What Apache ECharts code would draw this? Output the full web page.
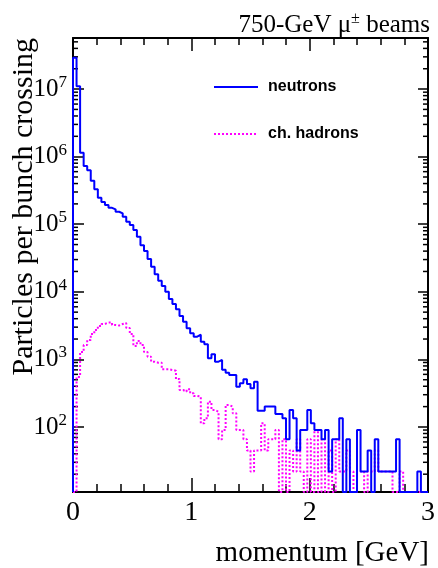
<!DOCTYPE html>
<html><head><meta charset="utf-8">
<script src="https://cdn.jsdelivr.net/npm/echarts@6/dist/echarts.min.js"></script>
<style>html,body{margin:0;padding:0;background:#fff}#c{width:438px;height:568px}</style>
</head><body><div id="c"></div>
<script>
// bin edges of the momentum histogram [GeV]
const binEdges = [
0,0.03,0.06,0.09,0.12,0.15,0.18,0.21,0.24,0.27,
0.3,0.33,0.36,0.39,0.42,0.45,0.48,0.51,0.54,0.57,
0.6,0.63,0.66,0.69,0.72,0.75,0.78,0.81,0.84,0.87,
0.9,0.93,0.96,0.99,1.02,1.05,1.08,1.11,1.14,1.17,
1.2,1.23,1.26,1.29,1.32,1.35,1.38,1.41,1.44,1.47,
1.5,1.53,1.56,1.59,1.62,1.65,1.68,1.71,1.74,1.77,
1.8,1.83,1.86,1.89,1.92,1.95,1.98,2.01,2.04,2.07,
2.1,2.13,2.16,2.19,2.22,2.25,2.28,2.31,2.34,2.37,
2.4,2.43,2.46,2.49,2.52,2.55,2.58,2.61,2.64,2.67,
2.7,2.73,2.76,2.79,2.82,2.85,2.88,2.91,2.94,2.97,
3.0];

// particles per bunch crossing, one value per bin (0 = empty bin)
const neutrons = [
2.9e7,1.1e7,1.14e6,7.3e5,6.3e5,4.4e5,3.3e5,2.47e5,2.13e5,1.92e5,
1.75e5,1.66e5,1.53e5,1.45e5,1.29e5,1.09e5,9.7e4,8.2e4,6.5e4,4.9e4,
4.0e4,3.06e4,2.35e4,1.82e4,1.46e4,1.22e4,1.0e4,7.8e3,6.6e3,5.5e3,
4.4e3,3.6e3,2.9e3,2.43e3,2.17e3,2.32e3,1.83e3,1.67e3,1.04e3,1.19e3,
925,980,700,635,587,587,394,443,508,433,
374,468,174,174,200,200,200,156,156,134,
66,178,134,45,90,90,178,113,90,90,
66,90,22,66,66,134,0,66,0,0,
90,22,22,45,0,66,22,22,22,22,
22,66,0,0,0,0,0,22,0,0];

const chHadrons = [
0,550,1285,1633,1936,2376,2723,3120,3342,3516,
3516,3226,3170,3342,3452,2917,2376,1578,1871,1633,
1285,1096,925,894,894,714,714,697,680,513,
352,333,361,315,288,281,113,134,237,178,
168,66,90,211,200,159,90,90,66,45,
22,45,45,113,45,66,66,90,0,66,
0,45,22,66,22,0,66,0,90,0,
66,0,45,0,66,22,22,45,22,0,
22,22,0,22,22,45,22,22,22,22,
0,0,22,0,0,0,0,0,0,0];

const seriesNames = ['neutrons', 'ch. hadrons'];
const xTickLabels = ['0', '1', '2', '3'];
const yMin = 10.9, yMax = 5.7e7;

const serif = '"Liberation Serif","Times New Roman",serif';

function stepData(vals) {
  const out = [[binEdges[0], yMin]];
  for (let i = 0; i < vals.length; i++) out.push([binEdges[i], vals[i] > 0 ? vals[i] : yMin]);
  out.push([binEdges[vals.length], vals[vals.length - 1] > 0 ? vals[vals.length - 1] : yMin]);
  return out;
}

// minor tick positions of the log axis (2..9 x 10^n)
const minorTicks = [];
for (let e = 1; e <= 7; e++) for (let m = 2; m <= 9; m++) {
  const v = m * Math.pow(10, e);
  if (v > yMin && v < yMax) minorTicks.push([0, v]);
}

const axisLineStyle = {show: true, onZero: false, lineStyle: {color: '#000', width: 2}};

const chart = echarts.init(document.getElementById('c'), null, {renderer: 'canvas'});
chart.setOption({
  animation: false,
  backgroundColor: '#fff',
  title: {
    text: '750-GeV μ{s|±} beams', right: 3, top: 6,
    textStyle: {fontFamily: serif, fontSize: 25, fontWeight: 'normal', color: '#000',
      rich: {s: {fontFamily: serif, fontSize: 16, color: '#000', padding: [0, 0, 12, 0]}}}
  },
  grid: {left: 73, right: 6, top: 38, bottom: 76},
  legend: {
    data: seriesNames, orient: 'vertical', left: 213, top: 79, padding: 0,
    itemWidth: 44, itemHeight: 14, itemGap: 31,
    itemStyle: {opacity: 0},
    textStyle: {fontFamily: '"Liberation Sans",Arial,sans-serif', fontWeight: 'bold', fontSize: 16, color: '#000', padding: [0, 0, 0, 5]}
  },
  xAxis: [{
    type: 'value', min: 0, max: 3, interval: 1, position: 'bottom',
    axisLine: axisLineStyle,
    axisTick: {show: true, inside: true, length: 14, lineStyle: {color: '#000', width: 1.5}},
    minorTick: {show: true, splitNumber: 5, length: 8, lineStyle: {color: '#000', width: 1.5}},
    splitLine: {show: false},
    axisLabel: {margin: 7, fontFamily: serif, fontSize: 28, color: '#000',
      formatter: v => xTickLabels[Math.round(v)]}
  }, {
    type: 'value', min: 0, max: 3, interval: 1, position: 'top',
    axisLine: axisLineStyle,
    axisTick: {show: true, inside: true, length: 13, lineStyle: {color: '#000', width: 1.5}},
    minorTick: {show: true, splitNumber: 5, length: 7, lineStyle: {color: '#000', width: 1.5}},
    splitLine: {show: false}, axisLabel: {show: false}
  }],
  yAxis: [{
    type: 'log', logBase: 10, min: yMin, max: yMax, position: 'left',
    axisLine: axisLineStyle,
    axisTick: {show: true, inside: true, length: 11, lineStyle: {color: '#000', width: 1.5}},
    splitLine: {show: false},
    axisLabel: {
      margin: 6, color: '#000',
      formatter: function (v) {
        const e = Math.round(Math.log10(v));
        if (Math.abs(v / Math.pow(10, e) - 1) > 0.01) return '';
        return '{b|10}{e|' + e + '}';
      },
      rich: {
        b: {fontFamily: serif, fontSize: 25, color: '#000'},
        e: {fontFamily: serif, fontSize: 17, color: '#000', padding: [0, 0, 13, 0]}
      }
    }
  }, {
    type: 'log', logBase: 10, min: yMin, max: yMax, position: 'right',
    axisLine: axisLineStyle,
    axisTick: {show: true, inside: true, length: 10, lineStyle: {color: '#000', width: 1.5}},
    splitLine: {show: false}, axisLabel: {show: false}
  }],
  graphic: [
    {type: 'text', x: 429, y: 553, style: {text: 'momentum [GeV]', font: '29px ' + serif, fill: '#000', textAlign: 'right', textVerticalAlign: 'middle'}},
    {type: 'text', x: 24, y: 38, rotation: Math.PI / 2, style: {text: 'Particles per bunch crossing', font: '30px ' + serif, fill: '#000', textAlign: 'right', textVerticalAlign: 'middle'}}
  ],
  series: [{
    name: seriesNames[1], type: 'line', step: 'end', symbol: 'none',
    data: stepData(chHadrons),
    lineStyle: {color: '#ff00ff', width: 2, type: [2, 2]},
    itemStyle: {color: '#ff00ff'}
  }, {
    name: seriesNames[0], type: 'line', step: 'end', symbol: 'none',
    data: stepData(neutrons),
    lineStyle: {color: '#0000ff', width: 2},
    itemStyle: {color: '#0000ff'}
  }, {
    type: 'custom', coordinateSystem: 'cartesian2d', silent: true, clip: false,
    data: minorTicks,
    renderItem: function (params, api) {
      const v = api.value(1);
      const l = api.coord([0, v]);
      const r = api.coord([3, v]);
      return {type: 'group', children: [
        {type: 'line', shape: {x1: l[0], y1: l[1], x2: l[0] + 5, y2: l[1]}, style: {stroke: '#000', lineWidth: 1.5}},
        {type: 'line', shape: {x1: r[0] - 5, y1: r[1], x2: r[0], y2: r[1]}, style: {stroke: '#000', lineWidth: 1.5}}
      ]};
    }
  }]
});
</script>
</body></html>
